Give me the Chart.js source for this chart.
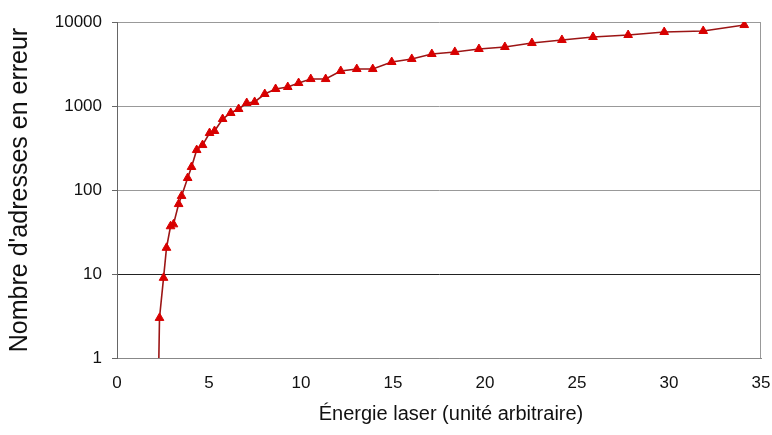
<!DOCTYPE html>
<html>
<head>
<meta charset="utf-8">
<script src="https://cdn.jsdelivr.net/npm/chart.js@4/dist/chart.umd.min.js"></script>
<style>
html,body{margin:0;padding:0;background:#fff;}
#wrap{width:772px;height:435px;}
</style>
</head>
<body>
<div id="wrap"><canvas id="c" width="772" height="435"></canvas></div>
<script>
// Energy values (x) and number of addresses in error (y)
const energie = [2.2, 2.31, 2.53, 2.69, 2.91, 3.07, 3.35, 3.51, 3.84, 4.05, 4.33, 4.65, 5.03, 5.30, 5.74, 6.18, 6.61, 7.05, 7.48, 8.03, 8.62, 9.28, 9.87, 10.53, 11.34, 12.16, 13.03, 13.90, 14.93, 16.02, 17.11, 18.36, 19.67, 21.08, 22.55, 24.18, 25.87, 27.78, 29.74, 31.86, 34.09];
const adresses = [0.1, 3, 9, 20.5, 37, 39, 68, 85, 139, 188, 299, 343, 477, 504, 700, 826, 921, 1086, 1117, 1389, 1594, 1683, 1878, 2094, 2094, 2612, 2756, 2756, 3340, 3630, 4160, 4400, 4770, 5040, 5620, 6110, 6630, 7000, 7600, 7820, 9200];
const xTicks = [0, 5, 10, 15, 20, 25, 30, 35];
const yTicks = [1, 10, 100, 1000, 10000];
const xTitle = "Énergie laser (unité arbitraire)";
const yTitle = "Nombre d'adresses en erreur";

const pts = energie.map((x, i) => ({x: x, y: adresses[i]}));
const FONT = "'Liberation Sans', Arial, sans-serif";

new Chart(document.getElementById('c'), {
  type: 'line',
  data: {
    datasets: [{
      data: pts,
      borderColor: '#9c1515',
      borderWidth: 1.6,
      backgroundColor: '#d40000',
      pointBackgroundColor: '#d80000',
      pointBorderColor: '#d80000',
      pointStyle: 'triangle',
      pointRadius: pts.map(p => p.y < 1 ? 0 : 5),
      pointBorderWidth: 1,
      tension: 0,
      fill: false
    }]
  },
  options: {
    responsive: false,
    animation: false,
    layout: {padding: {top: 22, right: 11, left: 0, bottom: 0}},
    plugins: {legend: {display: false}, tooltip: {enabled: false}},
    scales: {
      x: {
        type: 'linear',
        min: 0, max: 35,
        afterBuildTicks: s => { s.ticks = xTicks.map(v => ({value: v})); },
        afterFit: s => { s.height = 77; s.paddingLeft = 0; s.paddingRight = 0; },
        grid: {display: false, drawOnChartArea: false, drawTicks: true, tickLength: 5, tickColor: '#666'},
        border: {display: true, color: '#888', width: 1},
        ticks: {color: '#111', font: {family: FONT, size: 17}, padding: 10, maxRotation: 0},
        title: {display: false, text: xTitle}
      },
      y: {
        type: 'logarithmic',
        min: 1, max: 10000,
        afterBuildTicks: s => { s.ticks = yTicks.map(v => ({value: v})); },
        afterFit: s => { s.width = 117; s.paddingTop = 0; s.paddingBottom = 0; },
        grid: {
          display: true, drawOnChartArea: true, drawTicks: true, tickLength: 5,
          color: c => (c.tick && c.tick.value === 10) ? '#222' : '#999',
          tickColor: '#666'
        },
        border: {display: true, color: '#666', width: 1},
        ticks: {
          color: '#111', font: {family: FONT, size: 17}, padding: 10,
          callback: v => String(v)
        },
        title: {display: true, text: yTitle, color: '#111', font: {family: FONT, size: 25}, padding: {top: 5, bottom: 4}}
      }
    }
  },
  plugins: [{
    id: 'frame',
    afterDraw(chart) {
      const a = chart.chartArea, ctx = chart.ctx;
      ctx.save();
      ctx.strokeStyle = '#999';
      ctx.lineWidth = 1;
      ctx.beginPath();
      ctx.moveTo(a.right - 0.5, a.top);
      ctx.lineTo(a.right - 0.5, a.bottom);
      ctx.stroke();
      // x axis title
      ctx.fillStyle = '#111';
      ctx.font = "20px " + FONT;
      ctx.textAlign = 'center';
      ctx.textBaseline = 'middle';
      ctx.fillText(xTitle, (a.left + a.right) / 2 + 12, a.bottom + 56);
      ctx.restore();
    }
  }]
});
</script>
</body>
</html>
